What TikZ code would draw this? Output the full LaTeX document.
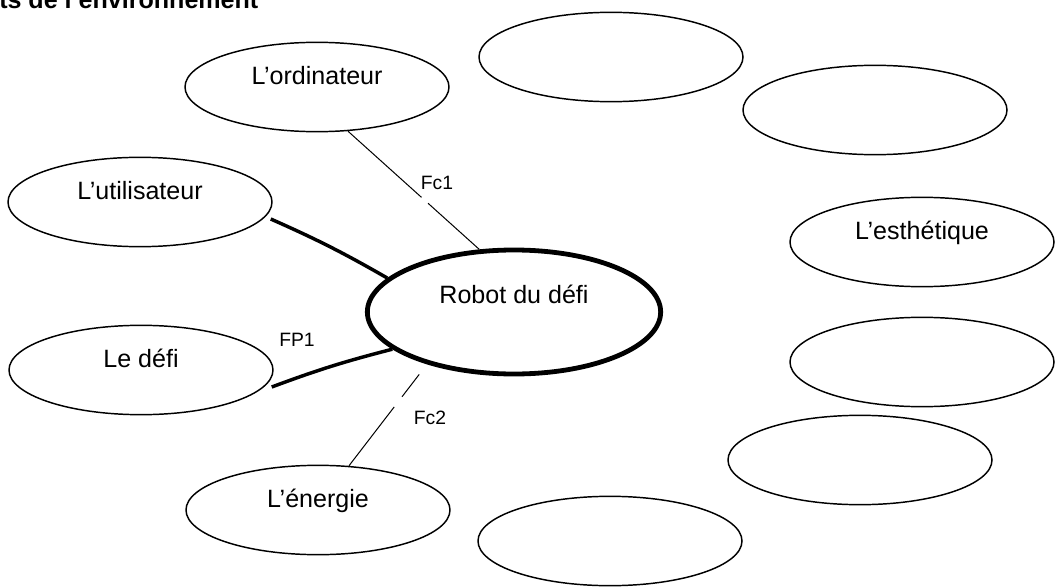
\documentclass[tikz,border=0pt]{standalone}
\usepackage{fontspec}
\setmainfont{Liberation Sans}
\usepackage{tikz}
\usetikzlibrary{shapes,positioning,calc}

\begin{document}
\begin{tikzpicture}[x=0.75pt, y=-0.75pt,
    envbox/.style={ellipse, draw, line width=1.1pt, inner sep=0pt,
        minimum width=198pt, minimum height=67pt,
        text height=14pt, text depth=18pt,
        font=\fontsize{18.8}{22}\selectfont},
    robotbox/.style={envbox, line width=3.6pt,
        minimum width=220pt, minimum height=93pt, text depth=27pt},
    fplink/.style={line width=2.6pt},
    fclink/.style={line width=0.75pt},
    fnlabel/.style={inner sep=0pt, font=\fontsize{14.5}{17}\selectfont}]
    \useasboundingbox (0,0) rectangle (1056,588);
    \clip (0,0) rectangle (1056,588);

    % heading, cut at the top of the page
    \node (heading) [anchor=base west, inner sep=0pt,
        font=\fontsize{18.8}{22}\selectfont\bfseries] at (-1,8.5)
        {ts de l’environnement};

    % system and named elements
    \node (robot) [robotbox] at (514,312) {Robot du défi};
    \node (ordi) [envbox] at (317,87) {L’ordinateur};
    \node (util) [envbox] at (140,202) {L’utilisateur};
    \node (defi) [envbox] at (141,370) {Le défi};
    \node (energie) [envbox] at (318,510) {L’énergie};
    \node (esth) [envbox] at (922,242) {L’esthétique};

    % empty elements
    \foreach \name/\x/\y in {top1/611/57, top2/875/110, right3/922/362,
        right4/860/460, bottom/610/541} {
        \node (\name) [envbox] at (\x,\y) {};
    }

    % main function
    \draw [fplink] ($(util.east)+(-2,17)$) to[bend left=3] (robot.165);
    \draw [fplink] ($(defi.east)+(-2,17)$) to[bend left=3] (robot.197);
    \node (fp1) [fnlabel] at (297,340) {FP1};

    % constraint functions
    \draw [fclink] (ordi.-55) -- ($(ordi.-55)!0.56!(robot.119)$);
    \draw [fclink] ($(ordi.-55)!0.61!(robot.119)$) -- (robot.119);
    \node (fc1) [fnlabel] at (437,183) {Fc1};

    \draw [fclink] ($(robot.211)!0.1!(energie.55)$) -- ($(robot.211)!0.32!(energie.55)$);
    \draw [fclink] ($(robot.211)!0.42!(energie.55)$) -- (energie.55);
    \node (fc2) [fnlabel] at (430,418) {Fc2};
\end{tikzpicture}
\end{document}
